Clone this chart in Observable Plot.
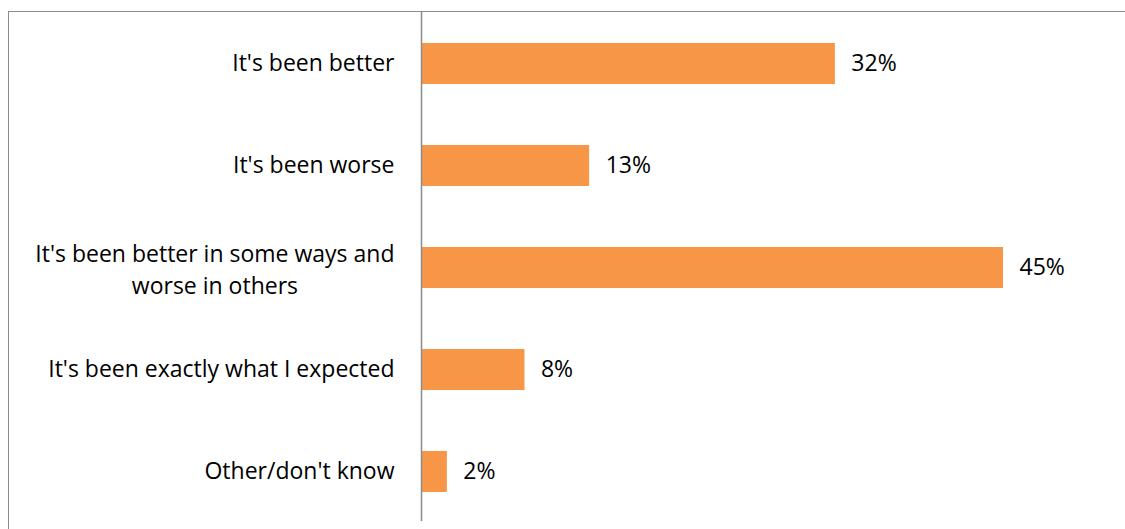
<!DOCTYPE html>
<html>
<head>
<meta charset="utf-8">
<script src="https://cdn.jsdelivr.net/npm/d3@7"></script>
<script src="https://cdn.jsdelivr.net/npm/@observablehq/plot@0.6"></script>
<style>
  html, body { margin: 0; padding: 0; background: #fff; }
  #wrap { position: relative; width: 1125px; height: 529px; overflow: hidden; }
  #frame { position: absolute; left: 8px; top: 11px; width: 1200px; height: 600px;
           border-top: 1.5px solid #8c8c8c; border-left: 1.5px solid #8c8c8c; box-sizing: border-box; }
  #chart { position: absolute; left: 0; top: 0; }
</style>
</head>
<body>
<div id="wrap"><div id="frame"></div><div id="chart"></div></div>
<script>
const categories = [
  "It's been better",
  "It's been worse",
  "It's been better in some ways and\nworse in others",
  "It's been exactly what I expected",
  "Other/don't know"
];
const values = [32, 13, 45, 8, 2];
const valueLabels = ["32%", "13%", "45%", "8%", "2%"];

const data = categories.map((c, i) => ({category: c, value: values[i], label: valueLabels[i]}));

const FONT = "Open Sans";
const FS = 23;
const gap = 27;

// measure widest line of multi-line labels to center them like the original
const ctx = document.createElement("canvas").getContext("2d");
ctx.font = `${FS}px "${FONT}"`;
const lineW = s => ctx.measureText(s).width;
const single = data.filter(d => !d.category.includes("\n"));
const multi = data.filter(d => d.category.includes("\n")).map(d => ({
  ...d, half: Math.max(...d.category.split("\n").map(lineW)) / 2
}));

const chart = Plot.plot({
  width: 1125,
  height: 529,
  marginTop: 11,
  marginBottom: 8,
  marginLeft: 8,
  marginRight: 0,
  style: {fontFamily: FONT, fontSize: FS + "px", color: "#000", background: "transparent", overflow: "visible"},
  x: {domain: [0, 45], range: [421, 1003], axis: null},
  y: {domain: categories, range: [12, 522], paddingInner: 0.6, paddingOuter: 0.3, axis: null},
  marks: [
    Plot.barX(data, {x: "value", y: "category", fill: "#F79646"}),
    Plot.ruleX([0], {stroke: "#8c8c8c", strokeWidth: 1.5}),
    Plot.text(data, {x: "value", y: "category", text: "label", dx: 16, textAnchor: "start", fill: "#000", fontSize: FS}),
    Plot.text(single, {x: () => 0, y: "category", text: "category", dx: -gap, textAnchor: "end", fill: "#000", fontSize: FS}),
    ...multi.map(m => Plot.text([m], {x: () => 0, y: "category", text: "category", dx: -gap - m.half, textAnchor: "middle", lineHeight: 1.39, fill: "#000", fontSize: FS}))
  ]
});
document.getElementById("chart").appendChild(chart);
</script>
</body>
</html>
